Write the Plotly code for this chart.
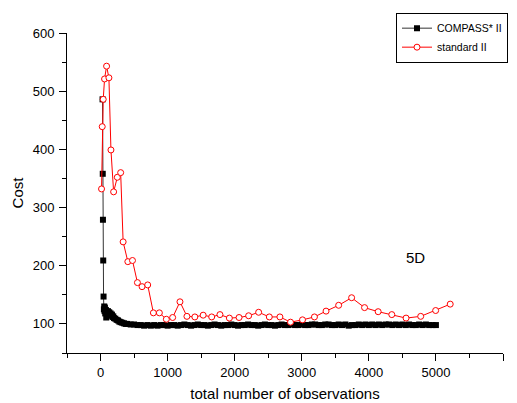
import plotly.graph_objects as go

# COMPASS* II (black squares)
compass_x = [30, 33, 36, 40, 45, 50, 55, 60, 65, 70, 80, 85, 90, 100, 110, 120, 130, 140, 150,
             160, 170, 180, 190, 200, 220, 240, 260, 280, 300, 325, 350, 375, 400, 450, 500,
             550, 600, 650, 700, 750, 800, 850, 900, 950, 1000, 1050, 1100, 1150, 1200, 1250,
             1300, 1350, 1400, 1450, 1500, 1550, 1600, 1650, 1700, 1750, 1800, 1850, 1900, 1950,
             2000, 2050, 2100, 2150, 2200, 2250, 2300, 2350, 2400, 2450, 2500, 2550, 2600, 2650,
             2700, 2750, 2800, 2850, 2900, 2950, 3000, 3050, 3100, 3150, 3200, 3250, 3300, 3350,
             3400, 3450, 3500, 3550, 3600, 3650, 3700, 3750, 3800, 3850, 3900, 3950, 4000, 4050,
             4100, 4150, 4200, 4250, 4300, 4350, 4400, 4450, 4500, 4550, 4600, 4650, 4700, 4750,
             4800, 4850, 4900, 4950, 5000]
compass_y = [486, 358, 279, 209, 147, 125, 130, 122, 128, 118, 124, 111, 120, 118, 122, 117, 120, 116, 118,
             114, 116, 112, 113, 110, 109, 107, 106, 104, 103, 102, 101, 100, 100, 99, 99,
             98, 98, 97, 98, 97, 98, 97, 98, 98, 97, 98, 98, 97, 98, 99,
             98, 97, 98, 99, 98, 98, 97, 98, 99, 98, 97, 98, 98, 99,
             98, 97, 98, 98, 99, 98, 98, 97, 98, 99, 98, 98, 97, 98,
             99, 98, 98, 99, 98, 98, 99, 98, 98, 99, 99, 98, 98, 99,
             99, 98, 98, 99, 98, 99, 97, 98, 98, 99, 98, 99, 98, 99,
             98, 99, 98, 99, 99, 98, 99, 98, 99, 98, 99, 98, 98, 99,
             98, 99, 98, 98, 98]

# standard II (red open circles)
standard_x = [15, 25, 40, 60, 90, 125, 155, 195, 250, 300, 337, 407, 476, 550, 619, 703, 788, 877,
              981, 1075, 1184, 1288, 1406, 1530, 1657, 1780, 1921, 2065, 2208, 2357, 2516, 2674,
              2832, 3011, 3189, 3362, 3550, 3743, 3936, 4139, 4342, 4555, 4773, 4996, 5213]
standard_y = [332, 439, 486, 521, 543, 523, 399, 327, 352, 360, 241, 207, 209, 171, 164, 167, 119, 119,
              108, 111, 138, 113, 112, 115, 112, 116, 110, 111, 114, 120, 112, 112,
              103, 107, 112, 122, 132, 145, 128, 121, 116, 110, 113, 123, 134]

x_ticks = [0, 1000, 2000, 3000, 4000, 5000, 6000]
y_ticks = [100, 200, 300, 400, 500, 600]

FONT = "Liberation Sans, Arial, sans-serif"

fig = go.Figure()
fig.add_trace(go.Scatter(
    x=compass_x, y=compass_y, mode="lines+markers", name="COMPASS* II",
    line=dict(color="#333333", width=1),
    marker=dict(symbol="square", size=6, color="black", line=dict(width=0)),
))
fig.add_trace(go.Scatter(
    x=standard_x, y=standard_y, mode="lines+markers", name="standard II",
    line=dict(color="red", width=1),
    marker=dict(symbol="circle", size=6, color="white", line=dict(color="red", width=1)),
))

fig.add_annotation(x=4690, y=214, text="5D", showarrow=False,
                   font=dict(family=FONT, size=15, color="black"))

axis_common = dict(showgrid=False, zeroline=False, showline=True, linecolor="black", linewidth=1,
                   ticks="outside", ticklen=7, tickcolor="black", tickwidth=1,
                   tickfont=dict(family=FONT, size=13, color="black"), automargin=False)

fig.update_layout(
    width=517, height=403,
    margin=dict(l=67, r=14, t=33, b=50, autoexpand=False),
    paper_bgcolor="white", plot_bgcolor="white",
    font=dict(family=FONT, color="black"),
    xaxis=dict(range=[-500, 6000], tickvals=x_ticks, ticktext=[str(v) for v in x_ticks],
               minor=dict(dtick=500, tick0=0, ticks="outside", ticklen=4, tickcolor="black"),
               title=dict(text="total number of observations", font=dict(family=FONT, size=15), standoff=9),
               **axis_common),
    yaxis=dict(range=[50, 600], tickvals=y_ticks, ticktext=[str(v) for v in y_ticks],
               minor=dict(dtick=50, tick0=0, ticks="outside", ticklen=4, tickcolor="black"),
               title=dict(text="Cost", font=dict(family=FONT, size=15), standoff=5),
               ticklabelstandoff=2,
               **axis_common),
    showlegend=True,
    legend=dict(x=(396 - 67) / 436, y=(352.7 - 13) / 319.4,
                xanchor="left", yanchor="top",
                bordercolor="black", borderwidth=1, bgcolor="white",
                font=dict(family=FONT, size=10.5, color="black"),
                tracegroupgap=0, itemwidth=30),
)

fig.write_html("out.html", config={"displayModeBar": False},
               post_script="document.body.style.margin='0';document.body.style.overflow='hidden';")
